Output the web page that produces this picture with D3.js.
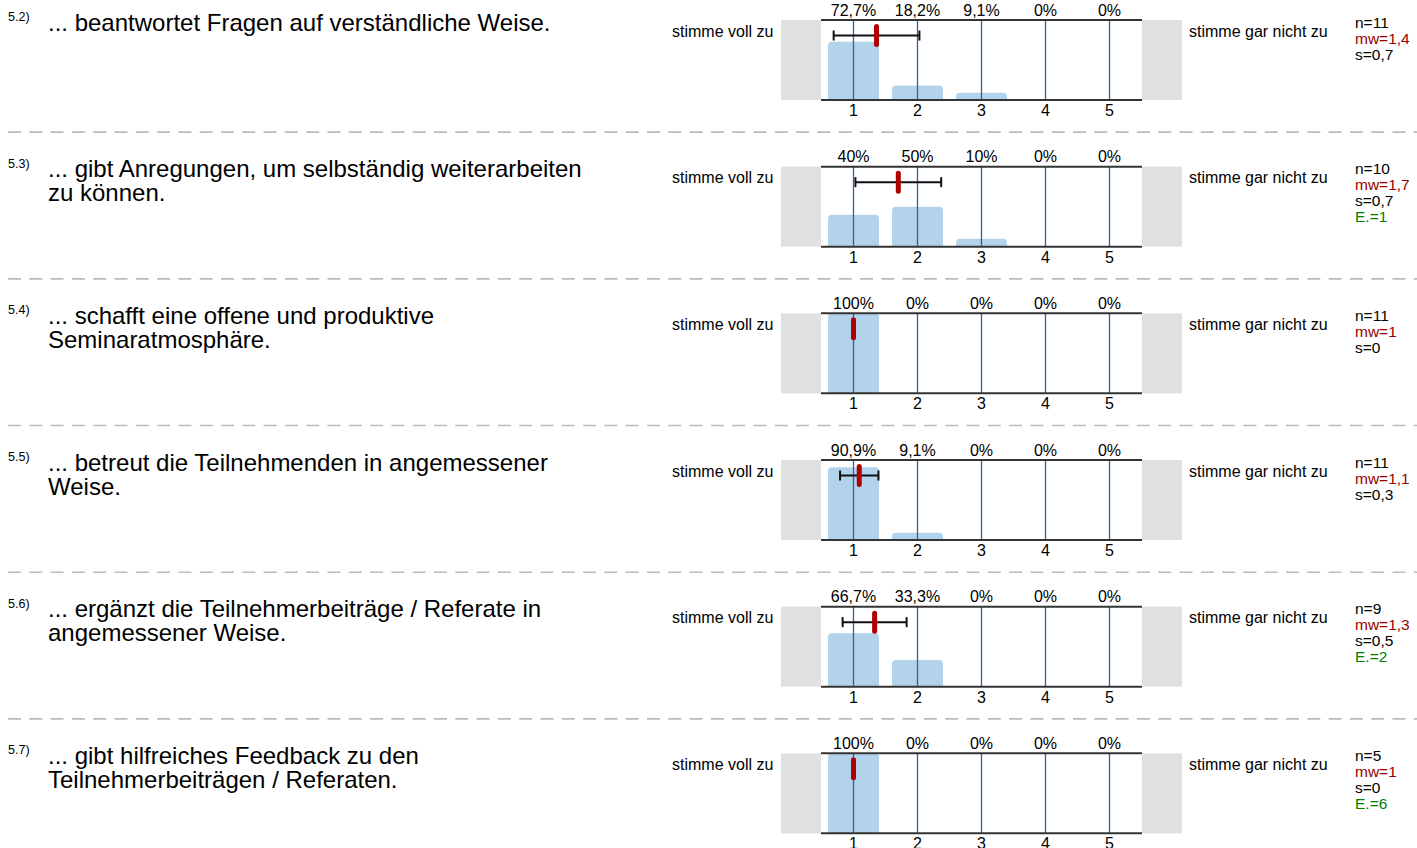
<!DOCTYPE html>
<html>
<head>
<meta charset="utf-8">
<script src="https://cdn.jsdelivr.net/npm/d3@7"></script>
<style>
  body { margin: 0; background: #fff; }
  text { font-family: "Liberation Sans", Arial, sans-serif; }
</style>
</head>
<body>
<div id="chart"></div>
<script>
// data
var numbers = ["5.2)", "5.3)", "5.4)", "5.5)", "5.6)", "5.7)"];
var questions = [
  ["... beantwortet Fragen auf verständliche Weise."],
  ["... gibt Anregungen, um selbständig weiterarbeiten", "zu können."],
  ["... schafft eine offene und produktive", "Seminaratmosphäre."],
  ["... betreut die Teilnehmenden in angemessener", "Weise."],
  ["... ergänzt die Teilnehmerbeiträge / Referate in", "angemessener Weise."],
  ["... gibt hilfreiches Feedback zu den", "Teilnehmerbeiträgen / Referaten."]
];
var percents = [
  [72.7, 18.2, 9.1, 0, 0],
  [40, 50, 10, 0, 0],
  [100, 0, 0, 0, 0],
  [90.9, 9.1, 0, 0, 0],
  [66.7, 33.3, 0, 0, 0],
  [100, 0, 0, 0, 0]
];
var counts = [11, 10, 11, 11, 9, 5];
var means = [1.36, 1.7, 1, 1.09, 1.33, 1];
var sds = [0.67, 0.67, 0, 0.3, 0.5, 0];
var abstentions = [null, 1, null, null, 2, 6];
var ticks = [1, 2, 3, 4, 5];
var leftLabel = "stimme voll zu",
    rightLabel = "stimme gar nicht zu";

var W = 1417, H = 848,
    rowStep = 146.67, rowTop0 = 20, plotH = 80;

var svg = d3.select("#chart").append("svg")
    .attr("width", W).attr("height", H);

var x = d3.scaleLinear().domain([0.5, 5.5]).range([821.5, 1141.5]);
var bw = 51;

function fmt(v) {
  return (Math.round(v * 10) / 10).toString().replace(".", ",");
}

// bar with rounded top corners
function barPath(x0, y0, w, h) {
  var r = Math.min(4, h, w / 2);
  return "M" + x0 + "," + (y0 + h) +
    "V" + (y0 + r) +
    "Q" + x0 + "," + y0 + " " + (x0 + r) + "," + y0 +
    "H" + (x0 + w - r) +
    "Q" + (x0 + w) + "," + y0 + " " + (x0 + w) + "," + (y0 + r) +
    "V" + (y0 + h) + "Z";
}

var rows = svg.selectAll("g.row")
    .data(questions)
    .enter()
    .append("g")
    .attr("class", "row")
    .attr("transform", function(d, i) { return "translate(0," + (rowTop0 + i * rowStep) + ")"; });

rows.each(function(q, i) {
  var g = d3.select(this);
  var y = d3.scaleLinear().domain([0, 100]).range([plotH, 0]);

  // separator
  if (i > 0) {
    g.append("line")
      .attr("x1", 8).attr("x2", W)
      .attr("y1", -34.5).attr("y2", -34.5)
      .attr("stroke", "#bbb").attr("stroke-width", 1.6)
      .attr("stroke-dasharray", "13,8.3");
  }

  // number + question
  g.append("text")
    .attr("x", 8).attr("y", 1)
    .attr("font-size", "12.5px")
    .text(numbers[i]);
  g.selectAll("text.q")
    .data(q)
    .enter()
    .append("text")
    .attr("class", "q")
    .attr("x", 48)
    .attr("y", function(d, j) { return 10.5 + j * 24; })
    .attr("font-size", "24px")
    .text(function(d) { return d; });

  // side boxes
  g.append("rect").attr("x", 781).attr("y", 0).attr("width", 40).attr("height", plotH).attr("fill", "#e0e0e0");
  g.append("rect").attr("x", 1142).attr("y", 0).attr("width", 40).attr("height", plotH).attr("fill", "#e0e0e0");

  // scale labels
  g.append("text").attr("x", 672).attr("y", 16.5).attr("font-size", "16px").text(leftLabel);
  g.append("text").attr("x", 1189).attr("y", 16.5).attr("font-size", "16px").text(rightLabel);

  // bars
  g.selectAll("path.bar")
    .data(percents[i])
    .enter()
    .filter(function(d) { return d > 0; })
    .append("path")
    .attr("class", "bar")
    .attr("fill", "#b3d3eb")
    .attr("d", function(d) {
      var k = percents[i].indexOf(d);
      return barPath(x(k + 1) - bw / 2, y(d), bw, plotH - y(d));
    });

  // grid lines
  g.selectAll("line.grid")
    .data(ticks)
    .enter()
    .append("line")
    .attr("class", "grid")
    .attr("x1", function(d) { return x(d); })
    .attr("x2", function(d) { return x(d); })
    .attr("y1", 0).attr("y2", plotH)
    .attr("stroke", "#2a62ac").attr("stroke-width", 1.3);

  // frame lines
  g.append("line").attr("x1", 821).attr("x2", 1142).attr("y1", 0).attr("y2", 0)
    .attr("stroke", "#333").attr("stroke-width", 2);
  g.append("line").attr("x1", 821).attr("x2", 1142).attr("y1", plotH).attr("y2", plotH)
    .attr("stroke", "#333").attr("stroke-width", 2);

  // percent labels
  g.selectAll("text.pct")
    .data(percents[i])
    .enter()
    .append("text")
    .attr("class", "pct")
    .attr("x", function(d, k) { return x(ticks[k]); })
    .attr("y", -4.5)
    .attr("text-anchor", "middle")
    .attr("font-size", "16px")
    .text(function(d) { return fmt(d) + "%"; });

  // tick labels
  g.selectAll("text.tick")
    .data(ticks)
    .enter()
    .append("text")
    .attr("class", "tick")
    .attr("x", function(d) { return x(d); })
    .attr("y", plotH + 16)
    .attr("text-anchor", "middle")
    .attr("font-size", "16px")
    .text(function(d) { return d; });

  // error bar (mean ± s)
  if (sds[i] > 0) {
    var lo = x(means[i] - sds[i]), hi = x(means[i] + sds[i]);
    g.append("line").attr("x1", lo).attr("x2", hi).attr("y1", 15.5).attr("y2", 15.5)
      .attr("stroke", "#111").attr("stroke-width", 2);
    [lo, hi].forEach(function(xx) {
      g.append("line").attr("x1", xx).attr("x2", xx).attr("y1", 10.5).attr("y2", 20.5)
        .attr("stroke", "#111").attr("stroke-width", 2);
    });
  }

  // mean marker
  g.append("line")
    .attr("x1", x(means[i])).attr("x2", x(means[i]))
    .attr("y1", 6.5).attr("y2", 24.5)
    .attr("stroke", "#b00000").attr("stroke-width", 5)
    .attr("stroke-linecap", "round");

  // stats
  var stats = [
    { t: "n=" + counts[i], c: "#000" },
    { t: "mw=" + fmt(means[i]), c: "#990000" },
    { t: "s=" + fmt(sds[i]), c: "#000" }
  ];
  if (abstentions[i] != null) stats.push({ t: "E.=" + abstentions[i], c: "#008000" });
  g.selectAll("text.stat")
    .data(stats)
    .enter()
    .append("text")
    .attr("class", "stat")
    .attr("x", 1355)
    .attr("y", function(d, j) { return 7.5 + j * 16; })
    .attr("font-size", "15.5px")
    .attr("fill", function(d) { return d.c; })
    .text(function(d) { return d.t; });
});
</script>
</body>
</html>
